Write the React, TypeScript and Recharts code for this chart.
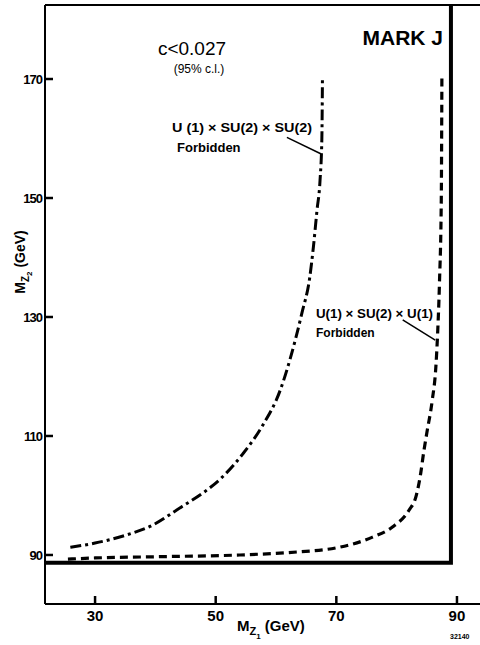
import React from 'react';
import { ComposedChart, Line, XAxis, YAxis, ReferenceLine } from 'recharts';

// axis ticks (GeV)
const X_TICKS = [30, 50, 70, 90];
const Y_TICKS = [90, 110, 130, 150, 170];
const X_DOMAIN: [number, number] = [21.7, 94.15];
const Y_DOMAIN: [number, number] = [81.76, 182.44];

// U(1) x SU(2) x SU(2) limit (dash-dot)
const su2M1 = [25.9, 30, 35, 39.1, 44.5, 48.0, 51.0, 54.5, 57.8, 60.7, 62.3, 64.3, 65.6, 66.2, 66.8, 67.3, 67.6, 67.7];
const su2M2 = [91.3, 92.0, 93.3, 94.8, 98.2, 100.5, 103.0, 107.0, 111.8, 117.7, 122.8, 130.7, 136.7, 141.8, 148.0, 153.0, 160.0, 170.3];

// U(1) x SU(2) x U(1) limit (dashed)
const u1M1 = [25.5, 30, 40, 54, 62, 70.5, 76, 79.3, 82.1, 83.2, 84.0, 84.5, 85.0, 85.9, 86.5, 86.8, 87.1, 87.4, 87.5];
const u1M2 = [89.3, 89.5, 89.7, 90.0, 90.4, 91.3, 93.0, 94.7, 97.6, 99.8, 103.8, 107.4, 110.5, 116.0, 121.6, 127.4, 135.8, 149.8, 170.3];

// M_Z boundary (thick solid)
const bndM1 = [21.7, 89.0, 89.0];
const bndM2 = [88.7, 88.7, 182.44];

const toRows = (xs: number[], ys: number[]) => xs.map((m1, i) => ({ m1, m2: ys[i] }));

const su2Data = toRows(su2M1, su2M2);
const u1Data = toRows(u1M1, u1M2);
const bndData = toRows(bndM1, bndM2);

const FONT = '"Liberation Sans", Arial, sans-serif';
const TICK = -8; // negative => tick marks point into the plot

export default function App() {
  return (
    <div style={{ position: 'absolute', left: 0, top: 0, width: 480, height: 645, overflow: 'hidden', background: '#fff' }}>
      <ComposedChart width={492} height={645} margin={{ top: 0, right: 0, bottom: 0, left: 0 }}>
        <XAxis
          xAxisId="b" type="number" dataKey="m1" domain={X_DOMAIN} ticks={X_TICKS} allowDataOverflow
          height={41} tickSize={TICK} tickMargin={14}
          tickLine={{ stroke: '#000', strokeWidth: 2.5 }}
          tick={{ fontSize: 15, fontWeight: 'bold', fill: '#000', fontFamily: FONT }}
          axisLine={{ stroke: '#000', strokeWidth: 2 }}
        />
        <XAxis
          xAxisId="t" orientation="top" type="number" dataKey="m1" domain={X_DOMAIN} ticks={X_TICKS} allowDataOverflow
          height={5} tickSize={TICK}
          tickLine={{ stroke: '#000', strokeWidth: 2.5 }} tick={false}
          axisLine={{ stroke: '#000', strokeWidth: 2 }}
        />
        <YAxis
          yAxisId="l" type="number" domain={Y_DOMAIN} ticks={Y_TICKS} allowDataOverflow
          width={45} tickSize={TICK} tickMargin={11}
          tickLine={{ stroke: '#000', strokeWidth: 2.5 }}
          tick={{ fontSize: 13, fontWeight: 'bold', fill: '#000', fontFamily: FONT, letterSpacing: -1 }}
          axisLine={{ stroke: '#000', strokeWidth: 2 }}
        />
        <YAxis
          yAxisId="r" orientation="right" type="number" domain={Y_DOMAIN} ticks={Y_TICKS} allowDataOverflow
          width={10} tickSize={TICK}
          tickLine={{ stroke: '#000', strokeWidth: 2.5 }} tick={false}
          axisLine={{ stroke: '#000', strokeWidth: 2 }}
        />

        {/* boundary on the top/right axes (same domains) so those axes are drawn */}
        <Line
          xAxisId="t" yAxisId="r" data={bndData} dataKey="m2" type="linear"
          stroke="#000" strokeWidth={4} dot={false} isAnimationActive={false}
        />
        <Line
          xAxisId="b" yAxisId="l" data={su2Data} dataKey="m2" type="monotone"
          stroke="#000" strokeWidth={3} strokeDasharray="11 4 3 4" dot={false} isAnimationActive={false}
        />
        <Line
          xAxisId="b" yAxisId="l" data={u1Data} dataKey="m2" type="monotone"
          stroke="#000" strokeWidth={3.2} strokeDasharray="8 5" dot={false} isAnimationActive={false}
        />

        <ReferenceLine xAxisId="b" yAxisId="l" y={Y_DOMAIN[1]} stroke="#000" strokeWidth={2} />

        {/* leader lines from the labels to the curves */}
        <ReferenceLine xAxisId="b" yAxisId="l" segment={[{ x: 61.8, y: 160.2 }, { x: 67.5, y: 157.4 }]} stroke="#000" strokeWidth={1.5} />
        <ReferenceLine xAxisId="b" yAxisId="l" segment={[{ x: 81.0, y: 129.5 }, { x: 86.4, y: 126.1 }]} stroke="#000" strokeWidth={1.5} />

        <g fontFamily={FONT} fill="#000">
          <text x={192} y={55} textAnchor="middle" fontSize={19}>c&lt;0.027</text>
          <text x={199} y={73} textAnchor="middle" fontSize={12}>(95% c.l.)</text>
          <text x={443} y={45} textAnchor="end" fontSize={21} fontWeight="bold">MARK J</text>

          <text x={172} y={132} fontSize={13} fontWeight="bold" textLength={140} lengthAdjust="spacingAndGlyphs">U (1) × SU(2) × SU(2)</text>
          <text x={177} y={152} fontSize={13} fontWeight="bold">Forbidden</text>

          <text x={316} y={318} fontSize={12} fontWeight="bold" textLength={117} lengthAdjust="spacingAndGlyphs">U(1) × SU(2) × U(1)</text>
          <text x={316} y={337} fontSize={12} fontWeight="bold">Forbidden</text>

          <text transform="translate(25,262) rotate(-90)" textAnchor="middle" fontSize={14} fontWeight="bold">
            M<tspan fontSize={10} dy={4}>Z</tspan><tspan fontSize={8} dy={3}>2</tspan><tspan dy={-7}> (GeV)</tspan>
          </text>
          <text x={237} y={631} fontSize={15} fontWeight="bold">
            M<tspan fontSize={11} dy={4}>Z</tspan><tspan fontSize={8} dy={4}>1</tspan><tspan dy={-8}> (GeV)</tspan>
          </text>
          <text x={450} y={639} fontSize={7} fontWeight="bold">32140</text>
        </g>
      </ComposedChart>
    </div>
  );
}
